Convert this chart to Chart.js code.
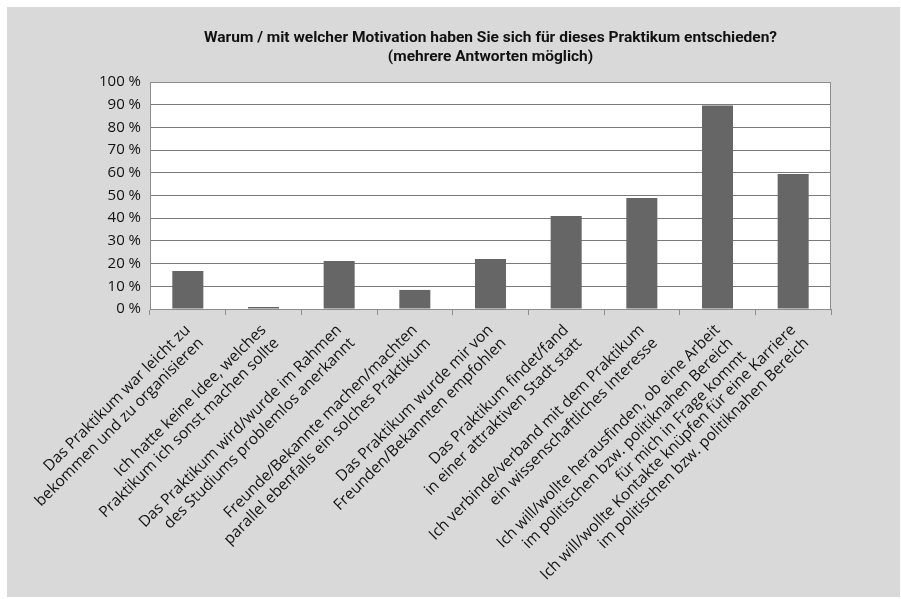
<!DOCTYPE html>
<html>
<head>
<meta charset="utf-8">
<script src="https://cdn.jsdelivr.net/npm/chart.js@4.4.1/dist/chart.umd.min.js"></script>
<style>
  html, body { margin: 0; padding: 0; background: #fff; }
  #wrap { width: 901px; height: 599px; position: relative; }
</style>
</head>
<body>
<div id="wrap"><canvas id="chart"></canvas></div>
<script>
const titleLines = [
  'Warum / mit welcher Motivation haben Sie sich für dieses Praktikum entschieden?',
  '(mehrere Antworten möglich)'
];

const categories = [
  ['Das Praktikum war leicht zu', 'bekommen und zu organisieren'],
  ['Ich hatte keine Idee, welches', 'Praktikum ich sonst machen sollte'],
  ['Das Praktikum wird/wurde im Rahmen', 'des Studiums problemlos anerkannt'],
  ['Freunde/Bekannte machen/machten', 'parallel ebenfalls ein solches Praktikum'],
  ['Das Praktikum wurde mir von', 'Freunden/Bekannten empfohlen'],
  ['Das Praktikum findet/fand', 'in einer attraktiven Stadt statt'],
  ['Ich verbinde/verband mit dem Praktikum', 'ein wissenschaftliches Interesse'],
  ['Ich will/wollte herausfinden, ob eine Arbeit', 'im politischen bzw. politiknahen Bereich', 'für mich in Frage kommt'],
  ['Ich will/wollte Kontakte knüpfen für eine Karriere', 'im politischen bzw. politiknahen Bereich']
];

const shares = [16.7, 0.9, 21.1, 8.4, 22, 41, 48.9, 89.6, 59.5];

const yTicks = [0, 10, 20, 30, 40, 50, 60, 70, 80, 90, 100];

const frame = {
  id: 'frame',
  beforeDraw(chart) {
    const { ctx, chartArea: a } = chart;
    ctx.save();
    ctx.fillStyle = '#d9d9d9';
    ctx.fillRect(7, 7, 893, 590);
    ctx.fillStyle = '#ffffff';
    ctx.fillRect(a.left, a.top, a.right - a.left, a.bottom - a.top);
    ctx.restore();
  },
  afterDraw(chart) {
    const { ctx, chartArea: a } = chart;
    ctx.save();
    ctx.strokeStyle = '#8c8c8c';
    ctx.lineWidth = 1;
    ctx.strokeRect(a.left + 0.5, a.top + 0.5, a.right - a.left - 1, a.bottom - a.top);
    ctx.fillStyle = '#111111';
    ctx.font = 'bold 15.5px Roboto';
    ctx.textAlign = 'center';
    ctx.textBaseline = 'middle';
    const cx = (a.left + a.right) / 2;
    ctx.fillText(titleLines[0], cx, 38);
    ctx.fillText(titleLines[1], cx, 57);
    ctx.restore();
  }
};

new Chart(document.getElementById('chart'), {
  type: 'bar',
  data: {
    labels: categories,
    datasets: [{
      data: shares,
      backgroundColor: '#666666',
      borderWidth: 0,
      barPercentage: 0.41,
      categoryPercentage: 1
    }]
  },
  options: {
    responsive: true,
    maintainAspectRatio: false,
    animation: false,
    layout: { padding: { top: 82, left: 0, right: 70, bottom: 10 } },
    plugins: { legend: { display: false }, tooltip: { enabled: false } },
    scales: {
      x: {
        grid: { display: true, offset: true, drawOnChartArea: false, drawTicks: true, tickLength: 6, color: '#8c8c8c' },
        border: { display: true, color: '#8c8c8c' },
        ticks: {
          autoSkip: false,
          maxRotation: 45,
          minRotation: 45,
          padding: 6,
          color: '#111111',
          font: { family: 'Open Sans', size: 15.5, lineHeight: 1.2 }
        },
        afterFit(scale) { scale.height = 280; }
      },
      y: {
        min: 0,
        max: 100,
        afterBuildTicks(scale) { scale.ticks = yTicks.map((v) => ({ value: v })); },
        grid: { color: '#7a7a7a', drawTicks: false },
        border: { display: true, color: '#8c8c8c' },
        ticks: {
          padding: 9,
          color: '#111111',
          font: { family: 'Open Sans', size: 15 },
          callback: (v) => `${v} %`
        },
        afterFit(scale) { scale.width = 150; }
      }
    }
  },
  plugins: [frame]
});
</script>
</body>
</html>
